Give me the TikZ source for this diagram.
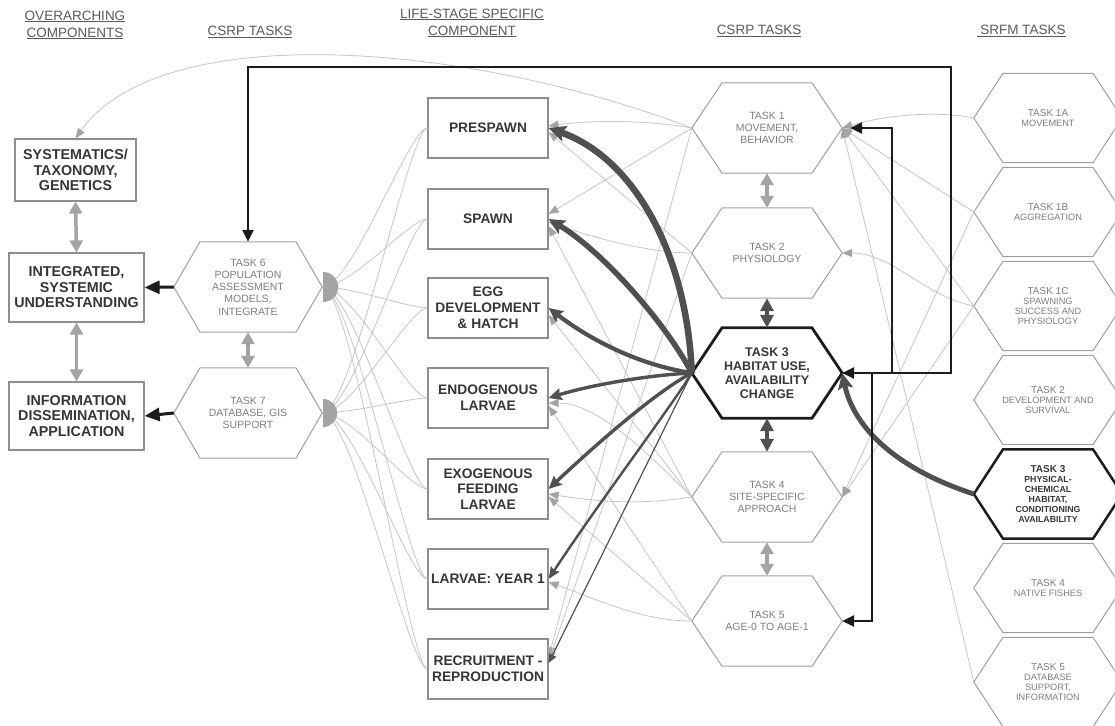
\documentclass[tikz,border=0pt]{standalone}
\usepackage{fontspec}
\setmainfont{Liberation Sans}
\usetikzlibrary{arrows.meta,calc}
\definecolor{lg}{HTML}{C6C6C6}
\definecolor{ag}{HTML}{A4A4A4}
\definecolor{hx}{HTML}{A0A0A0}
\definecolor{ht}{HTML}{7E7E7E}
\definecolor{dg}{HTML}{505050}
\definecolor{bk}{HTML}{1C1C1C}
\definecolor{bx}{HTML}{8E8E8E}
\definecolor{bt}{HTML}{363636}
\definecolor{hd}{HTML}{5A5A5A}
\newcommand\hexdraw[3]{\draw[#3] (#1.west) -- ([xshift=-#2]#1.north) -- ([xshift=#2]#1.north) -- (#1.east) -- ([xshift=#2]#1.south) -- ([xshift=-#2]#1.south) -- cycle;}
\tikzset{
  hdr/.style={text=hd, font=\fontsize{13.5}{17}\selectfont, align=center, inner sep=0},
  obox/.style={draw=bx, line width=1.2pt, text=bt, font=\bfseries\fontsize{14.3}{15.5}\selectfont, align=center, inner sep=0},
  lbox/.style={draw=bx, line width=1.2pt, text=bt, font=\bfseries\fontsize{13.8}{15.8}\selectfont, align=center, inner sep=0, minimum width=120pt, minimum height=60pt},
  hexc/.style={minimum width=150pt, minimum height=90pt, inner sep=0, align=center, text=ht, font=\fontsize{10.5}{12.3}\selectfont},
  hexr/.style={minimum width=148pt, minimum height=89pt, inner sep=0, align=center, text=ht, font=\fontsize{9.2}{10}\selectfont},
  hexline/.style={draw=hx, line width=1pt},
  gl/.style={draw=lg, line width=0.8pt},
  gla/.style={draw=lg, line width=0.8pt, -{Triangle[length=10pt,width=8pt,color=ag]}},
  dbl/.style={draw=ag, line width=3.5pt, {Triangle[length=12pt,width=13pt]}-{Triangle[length=12pt,width=13pt]}},
  dbld/.style={draw=dg, line width=3.5pt, {Triangle[length=13pt,width=13pt]}-{Triangle[length=13pt,width=13pt]}},
  blk/.style={draw=bk, line width=2.5pt},
  blkhead/.style={-{Triangle[length=12pt,width=11pt]}},
}
\begin{document}
\begin{tikzpicture}[x=1pt,y=-1pt]
\useasboundingbox (0,0) rectangle (1115,725);
\clip (0,0) rectangle (1115,725);
\fill[white] (0,0) rectangle (1115,725);

% headers
\node[hdr] (h1) at (75,25) {\underline{OVERARCHING}\\\underline{COMPONENTS}};
\node[hdr] (h2) at (250,32) {\underline{CSRP TASKS}};
\node[hdr] (h3) at (472,23) {\underline{LIFE-STAGE SPECIFIC}\\\underline{COMPONENT}};
\node[hdr] (h4) at (759,31) {\underline{CSRP TASKS}};
\node[hdr] (h5) at (1021,31) {\underline{\ SRFM TASKS}};

% overarching boxes
\node[obox, minimum width=121pt, minimum height=62pt] (sys) at (75.5,170) {SYSTEMATICS/\\TAXONOMY,\\GENETICS};
\node[obox, minimum width=135pt, minimum height=69pt] (int) at (76.5,287.5) {INTEGRATED,\\SYSTEMIC\\UNDERSTANDING};
\node[obox, minimum width=135pt, minimum height=68pt] (info) at (76.5,416) {INFORMATION\\DISSEMINATION,\\APPLICATION};

% task 6 / 7
\node[hexc, minimum width=148pt] (t6) at (248,287) {TASK 6\\POPULATION\\ASSESSMENT\\MODELS,\\INTEGRATE};
\hexdraw{t6}{48pt}{hexline}
\node[hexc, minimum width=148pt] (t7) at (248,413) {TASK 7\\DATABASE, GIS\\SUPPORT};
\hexdraw{t7}{48pt}{hexline}

% life stage boxes
\node[lbox] (pre) at (488,128) {PRESPAWN};
\node[lbox] (spa) at (488,219) {SPAWN};
\node[lbox] (egg) at (488,308) {EGG\\DEVELOPMENT\\\& HATCH};
\node[lbox] (endo) at (488,398) {ENDOGENOUS\\LARVAE};
\node[lbox] (exo) at (488,489) {EXOGENOUS\\FEEDING\\LARVAE};
\node[lbox] (lar) at (488,579) {LARVAE: YEAR 1};
\node[lbox] (rec) at (488,669) {RECRUITMENT -\\REPRODUCTION};

% CSRP tasks
\node[hexc] (c1) at (767,128) {TASK 1\\MOVEMENT,\\BEHAVIOR};
\hexdraw{c1}{45pt}{hexline}
\node[hexc] (c2) at (767,253) {TASK 2\\PHYSIOLOGY};
\hexdraw{c2}{45pt}{hexline}
\node[hexc, text=bt, font=\bfseries\fontsize{12.5}{14}\selectfont] (c3) at (767,373) {TASK 3\\HABITAT USE,\\AVAILABILITY\\CHANGE};
\hexdraw{c3}{45pt}{draw=bk, line width=2.8pt}
\node[hexc] (c4) at (767,497) {TASK 4\\SITE-SPECIFIC\\APPROACH};
\hexdraw{c4}{45pt}{hexline}
\node[hexc] (c5) at (767,621) {TASK 5\\AGE-0 TO AGE-1};
\hexdraw{c5}{45pt}{hexline}

% SRFM tasks
\node[hexr] (s1a) at (1048,118) {{\fontsize{10}{11}\selectfont TASK 1A}\\MOVEMENT};
\hexdraw{s1a}{45pt}{hexline}
\node[hexr] (s1b) at (1048,212) {{\fontsize{10}{11}\selectfont TASK 1B}\\AGGREGATION};
\hexdraw{s1b}{45pt}{hexline}
\node[hexr] (s1c) at (1048,306) {{\fontsize{10}{11}\selectfont TASK 1C}\\SPAWNING\\SUCCESS AND\\PHYSIOLOGY};
\hexdraw{s1c}{45pt}{hexline}
\node[hexr] (s2) at (1048,400) {{\fontsize{10}{11}\selectfont TASK 2}\\DEVELOPMENT AND\\SURVIVAL};
\hexdraw{s2}{45pt}{hexline}
\node[hexr, text=bt, font=\bfseries\fontsize{8.8}{10}\selectfont] (s3) at (1048,494) {{\fontsize{10}{11}\selectfont TASK 3}\\PHYSICAL-\\CHEMICAL\\HABITAT,\\CONDITIONING\\AVAILABILITY};
\hexdraw{s3}{45pt}{draw=bk, line width=2.5pt}
\node[hexr] (s4) at (1048,588) {{\fontsize{10}{11}\selectfont TASK 4}\\NATIVE FISHES};
\hexdraw{s4}{45pt}{hexline}
\node[hexr] (s5) at (1048,682) {{\fontsize{10}{11}\selectfont TASK 5}\\DATABASE\\SUPPORT,\\INFORMATION};
\hexdraw{s5}{45pt}{hexline}

% fans from life-stage boxes to tasks 6 and 7
\foreach \b in {pre,spa,egg,endo,exo,lar,rec} {
  \draw[gl] (t6.east) .. controls +(30,0) and +(-18,0) .. (\b.west);
  \draw[gl] (t7.east) .. controls +(30,0) and +(-18,0) .. (\b.west);
}
\fill[ag] ([xshift=1pt]t6.east) ++(0,-15) arc[start angle=-90,end angle=90,radius=15] -- cycle;
\fill[ag] ([xshift=1pt]t7.east) ++(0,-14) arc[start angle=-90,end angle=90,radius=14] -- cycle;

% light lines CSRP -> life-stage
\draw[gla] (c1.west) .. controls (460,40) and (160,20) .. (sys.north);
\draw[gla] (c1.west) .. controls +(-45,-8) and +(45,-6) .. ([yshift=2pt]pre.east);
\draw[gla] (c1.west) -- ([yshift=5pt]spa.east);
\draw[gla] (c1.west) -- ([yshift=12pt]rec.east);
\draw[gla] (c2.west) -- ([yshift=-4pt]pre.east);
\draw[gla] (c2.west) .. controls +(-45,0) and +(40,14) .. ([yshift=-3pt]spa.east);
\draw[gla] (c2.west) -- ([yshift=8pt]rec.east);
\draw[gla] (c4.west) -- ([yshift=-7pt]spa.east);
\draw[gla] (c4.west) -- ([yshift=-7pt]egg.east);
\draw[gla] (c4.west) .. controls +(-40,-40) and +(50,0) .. ([yshift=-5pt]endo.east);
\draw[gla] (c4.west) .. controls +(-50,8) and +(50,8) .. ([yshift=-5pt]exo.east);
\draw[gla] (c5.west) -- ([yshift=-8pt]endo.east);
\draw[gla] (c5.west) -- ([yshift=-8pt]exo.east);
\draw[gla] (c5.west) .. controls +(-50,0) and +(50,18) .. ([yshift=-3pt]lar.east);

% light lines SRFM -> CSRP
\draw[gla] (s1a.west) .. controls +(-40,-8) and +(40,-12) .. (c1.east);
\draw[gla] (s1b.west) -- (c1.east);
\draw[gla] (s1c.west) -- (c1.east);
\draw[gla] (s5.west) -- (c1.east);
\draw[gla] (s1c.west) .. controls +(-50,-10) and +(50,0) .. (c2.east);
\draw[gla] (s1b.west) -- (c4.east);
\draw[gla] (s1c.west) -- (c4.east);

% vertical double arrows
\draw[dbl] (sys.south) -- (int.north);
\draw[dbl] (int.south) -- (info.north);
\draw[dbl] (t6.south) -- (t7.north);
\draw[dbl] (c1.south) -- (c2.north);
\draw[dbld] (c2.south) -- (c3.north);
\draw[dbld] (c3.south) -- (c4.north);
\draw[dbl] (c4.south) -- (c5.north);

% black arrows to left column
\draw[draw=bk, line width=3pt, -{Triangle[length=15pt,width=13pt]}] (t6.west) -- (int.east);
\draw[draw=bk, line width=3pt, -{Triangle[length=15pt,width=13pt]}] (t7.west) -- (info.east);

% dark arrows from task 3 to life stages
\draw[draw=dg, line width=6.5pt, -{Stealth[length=17pt,width=16pt,inset=3pt]}] (c3.west) .. controls +(-5,-120) and +(85,30) .. (pre.east);
\draw[draw=dg, line width=5.5pt, -{Stealth[length=16pt,width=15pt,inset=3pt]}] (c3.west) .. controls +(-28,-53) and +(52,31) .. (spa.east);
\draw[draw=dg, line width=4.2pt, -{Stealth[length=14pt,width=13pt,inset=2pt]}] (c3.west) .. controls +(-53,-8) and +(42,32) .. (egg.east);
\draw[draw=dg, line width=3.4pt, -{Stealth[length=13pt,width=12pt,inset=2pt]}] (c3.west) .. controls +(-43,2) and +(42,-13) .. (endo.east);
\draw[draw=dg, line width=3.4pt, -{Stealth[length=13pt,width=12pt,inset=2pt]}] (c3.west) .. controls +(-33,17) and +(52,-49) .. (exo.east);
\draw[draw=dg, line width=2.4pt, -{Stealth[length=12pt,width=10pt,inset=2pt]}] (c3.west) .. controls +(-23,37) and +(52,-79) .. (lar.east);
\draw[draw=dg, line width=1.2pt, -{Triangle[length=9pt,width=8pt]}] (c3.west) -- ([yshift=6pt]rec.east);

% SRFM task 3 to CSRP task 3
\draw[draw=dg, line width=5pt, -{Stealth[length=16pt,width=15pt,inset=3pt]}] (s3.west) .. controls +(-74,-24) and +(12,57) .. (c3.east);

% black routed connectors
\coordinate (lt) at (951,67);
\coordinate (j1) at (892,373);
\coordinate (j2) at (872,373);
\draw[blk, {Triangle[length=12pt,width=11pt]}-{Triangle[length=12pt,width=11pt]}] (t6.north) |- (lt) |- (c3.east);
\draw[blk, blkhead] (j1) |- ([xshift=8pt]c1.east);
\draw[blk, blkhead] (j2) |- (c5.east);
\end{tikzpicture}
\end{document}
